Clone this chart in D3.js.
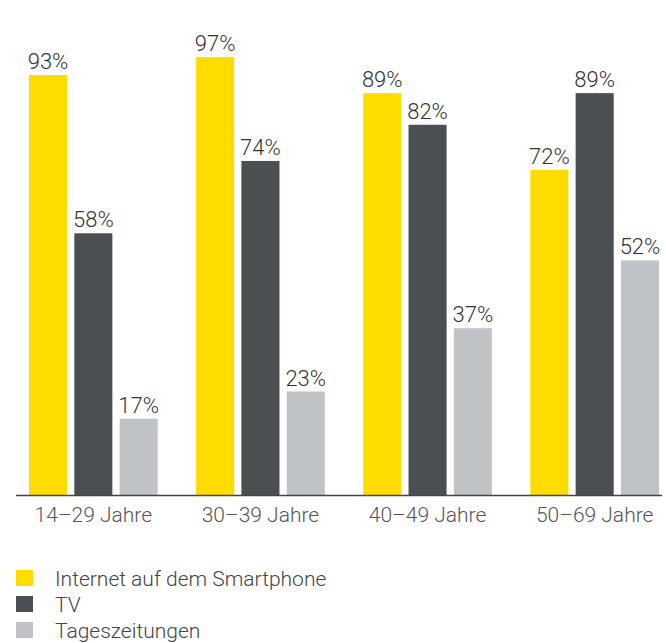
<html>
<head>
<meta charset="utf-8">
<script src="https://cdnjs.cloudflare.com/ajax/libs/d3/7.8.5/d3.min.js"></script>
<style>
  body { margin: 0; background: #fff; }
  text { font-family: Roboto, "Open Sans", sans-serif; }
</style>
</head>
<body>
<script>
    // Daten
    var gruppen = ["14–29 Jahre", "30–39 Jahre", "40–49 Jahre", "50–69 Jahre"];
    var serien = ["Internet auf dem Smartphone", "TV", "Tageszeitungen"];
    var smartphone = [93, 97, 89, 72];
    var tv = [58, 74, 82, 89];
    var zeitungen = [17, 23, 37, 52];
    var farben = ["#ffdc00", "#4a4f52", "#bfc3c6"];

    var werte = [smartphone, tv, zeitungen];

    var width = 666;
    var height = 643;
    var baseline = 495.5;

    var svg = d3.select("body")
        .append("svg")
        .attr("width", width)
        .attr("height", height);

    var x0 = d3.scaleBand()
        .domain(gruppen)
        .range([29, 659])
        .paddingInner(0.23)
        .paddingOuter(0);

    var x1 = d3.scaleBand()
        .domain(serien)
        .range([0, x0.bandwidth()])
        .paddingInner(0.16)
        .paddingOuter(0);

    var y = d3.scaleLinear()
        .domain([0, 100])
        .range([baseline, 43.4]);

    var color = d3.scaleOrdinal()
        .domain(serien)
        .range(farben);

    // Tabelle fuer die Balken
    var rows = [];
    gruppen.forEach(function(g, i) {
        serien.forEach(function(s, j) {
            rows.push({gruppe: g, serie: s, wert: werte[j][i]});
        });
    });

    var bars = svg.append("g");

    bars.selectAll("rect")
        .data(rows)
        .enter()
        .append("rect")
        .attr("x", function(d) { return x0(d.gruppe) + x1(d.serie); })
        .attr("y", function(d) { return y(d.wert); })
        .attr("width", x1.bandwidth())
        .attr("height", function(d) { return baseline - y(d.wert); })
        .attr("fill", function(d) { return color(d.serie); });

    bars.selectAll("text")
        .data(rows)
        .enter()
        .append("text")
        .attr("x", function(d) { return x0(d.gruppe) + x1(d.serie) + x1.bandwidth() / 2; })
        .attr("y", function(d) { return y(d.wert) - 6; })
        .attr("text-anchor", "middle")
        .style("font-size", "22px")
        .style("font-weight", 300)
        .attr("fill", "#333")
        .text(function(d) { return d.wert + "%"; });

    // x-Achse
    var xAxis = d3.axisBottom(x0).tickSize(0).tickPadding(11.5);

    var ax = svg.append("g")
        .attr("transform", "translate(0," + baseline + ")")
        .call(xAxis);
    ax.select(".domain").remove();
    ax.selectAll("text")
        .style("font-size", "21px")
        .style("font-weight", 300)
        .style("font-family", "Roboto, sans-serif")
        .attr("fill", "#555");

    svg.append("line")
        .attr("x1", 16)
        .attr("x2", 662)
        .attr("y1", baseline)
        .attr("y2", baseline)
        .attr("stroke", "#444")
        .attr("stroke-width", 1.5);

    // Legende
    var legend = svg.append("g")
        .attr("transform", "translate(16,570)");

    var item = legend.selectAll("g")
        .data(serien)
        .enter()
        .append("g")
        .attr("transform", function(d, i) { return "translate(0," + i * 26 + ")"; });

    item.append("rect")
        .attr("width", 17)
        .attr("height", 16)
        .attr("fill", function(d) { return color(d); });

    item.append("text")
        .attr("x", 39)
        .attr("y", 16)
        .style("font-size", "21px")
        .style("font-weight", 300)
        .attr("fill", "#444")
        .text(function(d) { return d; });
</script>
</body>
</html>
